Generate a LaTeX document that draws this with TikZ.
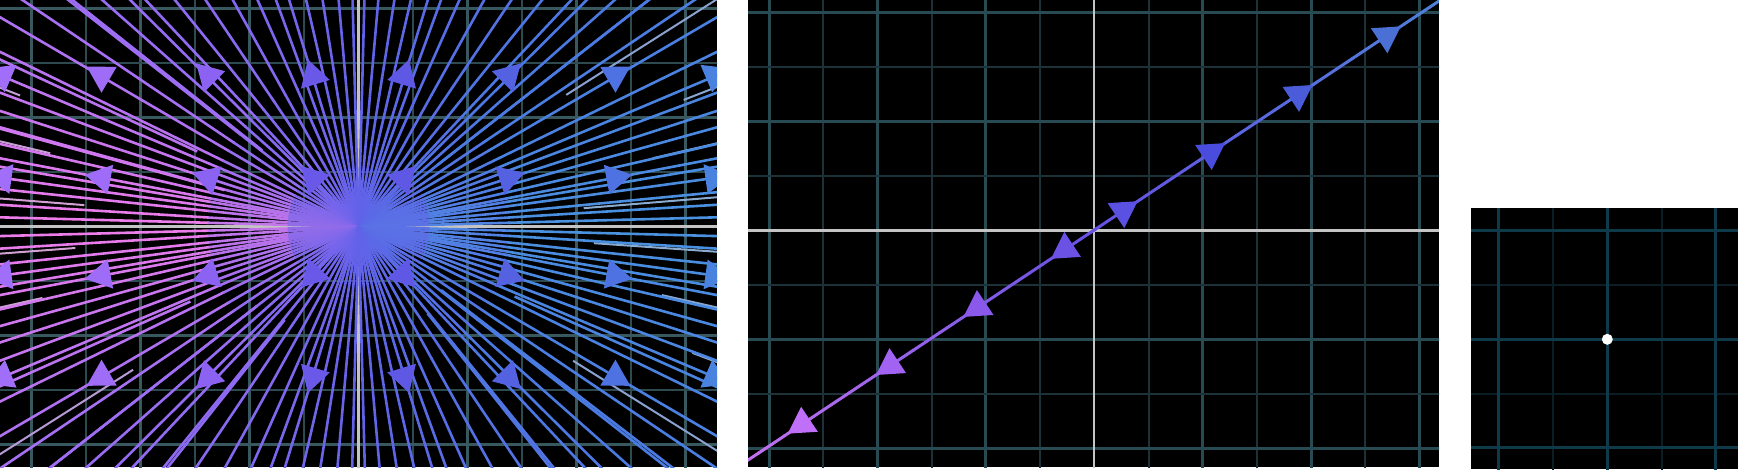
\documentclass[tikz,border=0pt]{standalone}
\usepackage{xcolor}
\usepackage{tikz}
\definecolor{rayleft}{HTML}{F07EEA}
\definecolor{rayviolet}{HTML}{9A6CF4}
\definecolor{raymid}{HTML}{6262E8}
\definecolor{raydiag}{HTML}{4A7AE2}
\definecolor{rayright}{HTML}{4A92E0}
\definecolor{leftmajor}{HTML}{36585E}
\definecolor{leftminor}{HTML}{2C4A50}
\definecolor{midmajor}{HTML}{284A52}
\definecolor{midminor}{HTML}{1C3238}
\definecolor{rightmajor}{HTML}{0F3A4A}
\definecolor{rightminor}{HTML}{0B1D25}
\definecolor{axisgray}{HTML}{C4C4C4}
\definecolor{linepink}{HTML}{CC74F2}
\definecolor{lineviolet}{HTML}{6650E2}
\definecolor{lineblue}{HTML}{4A86D8}
\definecolor{tipA}{HTML}{A06EF8}
\definecolor{tipB}{HTML}{9E6CF6}
\definecolor{tipC}{HTML}{8C62F2}
\definecolor{tipD}{HTML}{6A58E8}
\definecolor{tipE}{HTML}{5E58E4}
\definecolor{tipF}{HTML}{5462E2}
\definecolor{tipG}{HTML}{4E72E2}
\definecolor{tipH}{HTML}{4A82E0}
\definecolor{tipP}{HTML}{C070F8}
\definecolor{tipQ}{HTML}{A262F2}
\definecolor{tipR}{HTML}{8A58EA}
\definecolor{tipS}{HTML}{6C52E4}
\definecolor{tipT}{HTML}{5A50E2}
\definecolor{tipU}{HTML}{4A4CDE}
\definecolor{tipV}{HTML}{4A5CDA}
\definecolor{tipW}{HTML}{4A70D6}
\tikzset{
  gridmajor/.style={line width=3pt},
  gridminor/.style={line width=2pt},
  axisline/.style={draw=axisgray,line width=3pt},
  rayline/.style={line width=2.6pt},
  paleray/.style={line width=2pt},
  flowtip/.pic={\path[pic actions] (16,0) -- (-10,15) -- (-10,-15) -- cycle;}
}
\newcommand\raycolour[1]{%
  \pgfmathsetmacro\phi{asin(abs(sin(#1)))}%
  \pgfmathtruncatemacro\lft{cos(#1)<0}%
  \pgfmathtruncatemacro\flat{\phi<40}%
  \ifnum\flat=1
    \pgfmathsetmacro\cw{100*(1-\phi/40)}%
    \ifnum\lft=1 \colorlet{raycol}{rayleft!\cw!rayviolet}\else\colorlet{raycol}{rayright!\cw!raydiag}\fi
  \else
    \pgfmathsetmacro\cw{100*(1-(\phi-40)/50)}%
    \ifnum\lft=1 \colorlet{raycol}{rayviolet!\cw!raymid}\else\colorlet{raycol}{raydiag!\cw!raymid}\fi
  \fi}
\begin{document}
\begin{tikzpicture}[x=1pt,y=-1pt]
  \useasboundingbox (0,0) rectangle (1738,469);
  \fill[white] (0,0) rectangle (1738,469);
  % star node
  \begin{scope}
    \clip (0,0) rectangle (717,467);
    \fill[black] (0,0) rectangle (717,467);
    \begin{scope}[shift={(358.5,226.7)},yscale=-1]
      \foreach \k in {-7,-5,...,7} \draw[gridminor,leftminor] (\k*54.5,-280) -- (\k*54.5,280);
      \foreach \k in {-6,-4,-2,2,4,6} \draw[gridmajor,leftmajor] (\k*54.5,-280) -- (\k*54.5,280);
      \foreach \k in {-5,-3,...,5} \draw[gridminor,leftminor] (-400,\k*54.5) -- (400,\k*54.5);
      \foreach \k in {-4,-2,2,4} \draw[gridmajor,leftmajor] (-400,\k*54.5) -- (400,\k*54.5);
      \draw[axisline] (-400,0) -- (400,0);
      \draw[axisline] (0,-280) -- (0,280);
      \foreach \a/\r in {166.6/317,175.5/275,184.3/284,192.7/324,212.4/267,158.8/363,32.4/246,13.1/302,4.7/226,347.3/311,328/253,356/236,339.3/357,21.3/349} {
        \raycolour{\a}
        \draw[paleray,raycol!45!lightgray] (\a:\r) -- (\a:700);
      }
      \foreach \a in {1.5,3.5,5.5,7.8,9.5,10.8,13,15.5,17.9,20.5,22.9,26,30.3,34,38,41.5,44.8,46.8,51,56,61,66,70,73,77,81,85,88.5,
                      178.5,176.5,174,172.2,170.5,169.2,167,164.5,162.1,159.5,157.1,154,149.7,146,142,138.5,135.2,133.2,129,124,119,114,110,107,103,99,95,91.5,
                      181.5,183.5,186,187.8,189.5,190.8,193,195.5,197.9,200.5,202.9,206,210.3,214,218,221.5,224.8,226.8,231,236,241,246,250,253,257,261,265,268.5,
                      358.5,356.5,354,352.2,350.5,349.2,347,344.5,342.1,339.5,337.1,334,329.7,326,322,318.5,315.2,313.2,309,304,299,294,290,287,283,279,275,271.5} {
        \raycolour{\a}
        \draw[rayline,raycol] (\a:150) -- (\a:700);
        \draw[rayline,raycol!70!raymid] (\a:70) -- (\a:151);
        \draw[rayline,raycol!35!raymid] (0,0) -- (\a:71);
      }
      \foreach \a/\r in {155/178,141.6/123,164.7/139,204/184,218/129,231.6/119,38/100,322.5/104,308.5/111,335.9/171} {
        \raycolour{\a}
        \draw[rayline,raycol] (\a:\r) -- (\a:700);
      }
      \foreach \dx/\tipcol in {-357/tipA,-258/tipB,-151/tipC,-46/tipD,46/tipE,151/tipF,258/tipG,357/tipH}
        \foreach \dy in {-151,-49,49,152} {
          \pgfmathsetmacro\ang{atan2(\dy,\dx)}
          \pic[rotate=\ang,fill=\tipcol] at (\dx,\dy) {flowtip};
        }
    \end{scope}
  \end{scope}
  % eigenvector line
  \begin{scope}
    \clip (748,0) rectangle (1439,467);
    \fill[black] (748,0) rectangle (1439,467);
    \begin{scope}[shift={(1094.3,230)},yscale=-1]
      \foreach \k in {-7,-5,...,7} \draw[gridminor,midminor] (\k*54.2,-280) -- (\k*54.2,280);
      \foreach \k in {-6,-4,-2,2,4,6} \draw[gridmajor,midmajor] (\k*54.2,-280) -- (\k*54.2,280);
      \foreach \k in {-5,-3,...,5} \draw[gridminor,midminor] (-400,\k*54.5) -- (400,\k*54.5);
      \foreach \k in {-4,-2,2,4} \draw[gridmajor,midmajor] (-400,\k*54.5) -- (400,\k*54.5);
      \draw[axisline] (-400,0) -- (400,0);
      \draw[axisline,line width=2.2pt] (0,-280) -- (0,280);
      \foreach \i in {-30,...,29} {
        \pgfmathsetmacro\w{abs(\i+0.5)/30*100}
        \ifnum\i<0 \colorlet{segcol}{linepink!\w!lineviolet}\else\colorlet{segcol}{lineblue!\w!lineviolet}\fi
        \draw[line width=3pt,segcol] ({33.6}:{\i*15.5-0.3}) -- ({33.6}:{\i*15.5+15.8});
      }
      \foreach \r/\ang/\tipcol in {-352/213.6/tipP,-246/213.6/tipQ,-141/213.6/tipR,-36/213.6/tipS,36/33.6/tipT,141/33.6/tipU,246/33.6/tipV,352/33.6/tipW}
        \pic[rotate=\ang,fill=\tipcol] at ({33.6}:{\r}) {flowtip};
    \end{scope}
  \end{scope}
  % fixed point
  \begin{scope}
    \clip (1471,208) rectangle (1738,469);
    \fill[black] (1471,208) rectangle (1738,469);
    \begin{scope}[shift={(1607.3,339.3)},yscale=-1]
      \foreach \k in {-3,-1,1,3} {
        \draw[gridminor,rightminor] (\k*54.3,-170) -- (\k*54.3,170);
        \draw[gridminor,rightminor] (-170,\k*54.3) -- (170,\k*54.3);
      }
      \foreach \k in {-2,0,2} {
        \draw[gridmajor,rightmajor] (\k*54.3,-170) -- (\k*54.3,170);
        \draw[gridmajor,rightmajor] (-170,\k*54.3) -- (170,\k*54.3);
      }
      \fill[white] (0,0) circle (5.5);
    \end{scope}
  \end{scope}
\end{tikzpicture}
\end{document}
